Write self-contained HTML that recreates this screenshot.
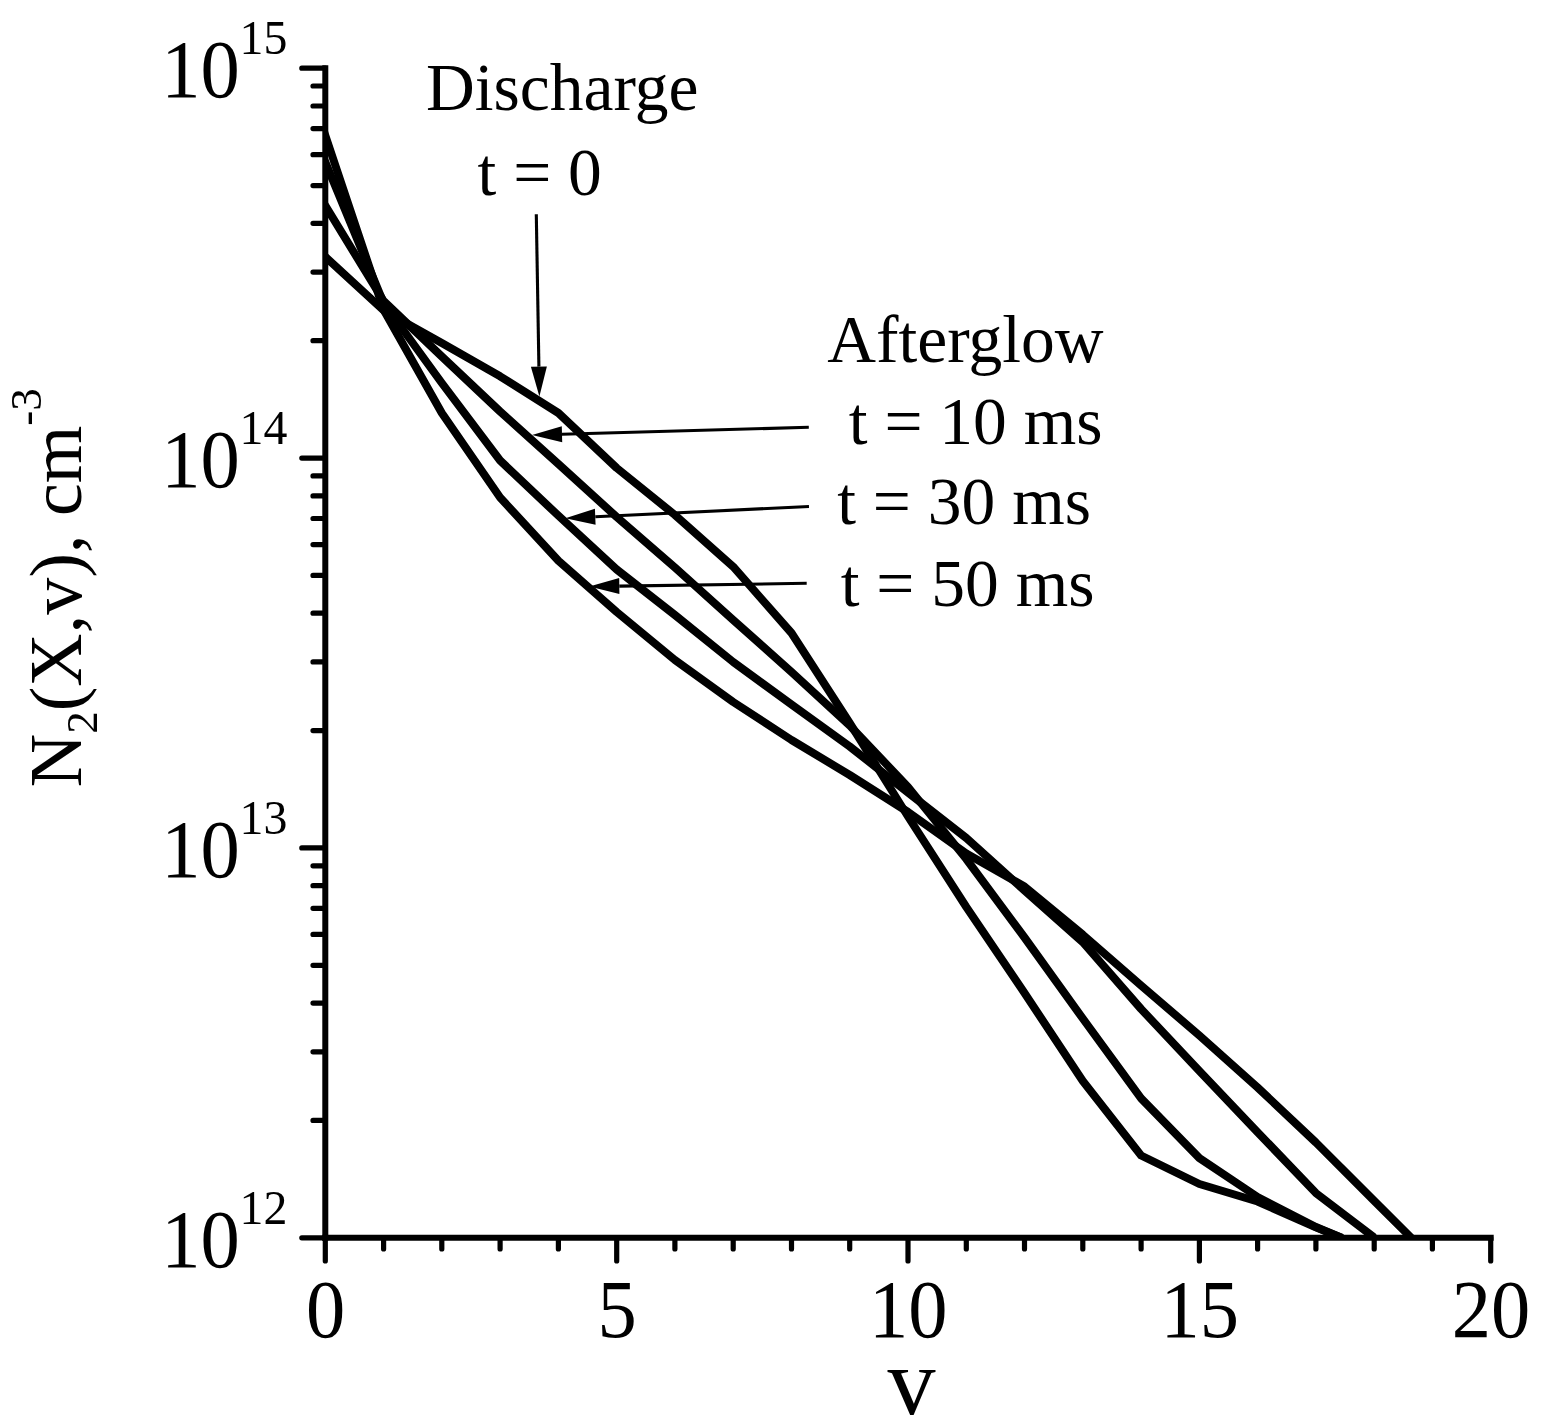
<!DOCTYPE html>
<html><head><meta charset="utf-8"><title>N2(X,v) vibrational distribution</title>
<style>html,body{margin:0;padding:0;background:#fff}body{width:1542px;height:1428px;position:relative;overflow:hidden}</style></head>
<body>
<svg width="1542" height="1428" viewBox="0 0 1542 1428" style="position:absolute;left:0;top:0">
<rect width="1542" height="1428" fill="#fff"/>
<defs><clipPath id="plot"><rect x="325.3" y="60" width="1180" height="1179.6"/></clipPath></defs>
<g fill="none" stroke="#000" stroke-width="8" stroke-linejoin="round" stroke-linecap="butt" clip-path="url(#plot)">
<polyline points="316.6,248.8 325.3,256.8 383.6,310.4 441.8,343.0 500.1,376.3 558.4,413.0 616.7,468.0 674.9,515.0 733.2,566.7 791.5,633.0 849.7,723.0 908.0,816.5 966.3,907.0 1024.5,993.0 1082.8,1081.0 1141.1,1155.5 1199.4,1184.0 1257.6,1201.5 1315.9,1227.4 1342.1,1238.0"/>
<polyline points="316.6,191.3 325.3,205.6 383.6,301.0 441.8,356.5 500.1,411.5 558.4,464.0 616.7,517.0 674.9,567.5 733.2,620.0 791.5,672.0 849.7,725.5 908.0,787.0 966.3,859.0 1024.5,937.5 1082.8,1018.5 1141.1,1098.4 1199.4,1158.1 1257.6,1197.0 1315.9,1227.0 1342.1,1238.0"/>
<polyline points="316.6,140.8 325.3,162.0 383.6,303.0 441.8,383.0 500.1,460.5 558.4,515.7 616.7,569.5 674.9,615.0 733.2,662.0 791.5,704.5 849.7,746.5 908.0,792.5 966.3,838.0 1024.5,890.5 1082.8,942.2 1141.1,1009.0 1199.4,1071.0 1257.6,1132.2 1315.9,1193.1 1374.2,1237.5"/>
<polyline points="316.6,109.3 325.3,135.4 383.6,309.7 441.8,413.0 500.1,497.5 558.4,560.7 616.7,612.0 674.9,660.0 733.2,702.0 791.5,740.0 849.7,775.0 908.0,812.0 966.3,853.5 1024.5,886.5 1082.8,934.7 1141.1,985.5 1199.4,1035.5 1257.6,1087.5 1315.9,1142.5 1374.2,1200.9 1411.5,1238.0"/>
</g>
<g stroke="#000" stroke-width="6" stroke-linecap="square" fill="none">
<path d="M325.3 68.2 V1237.8"/>
<path d="M325.3 1237.8 H1490.7"/>
</g>
<g stroke="#000" stroke-width="5.2" stroke-linecap="round" fill="none">
<path d="M301.8 1237.8H325.3M313.0 1120.4H325.3M313.0 1051.8H325.3M313.0 1003.1H325.3M313.0 965.3H325.3M313.0 934.4H325.3M313.0 908.3H325.3M313.0 885.7H325.3M313.0 865.8H325.3M301.8 847.9H325.3M313.0 730.6H325.3M313.0 661.9H325.3M313.0 613.2H325.3M313.0 575.4H325.3M313.0 544.6H325.3M313.0 518.5H325.3M313.0 495.9H325.3M313.0 475.9H325.3M301.8 458.1H325.3M313.0 340.7H325.3M313.0 272.1H325.3M313.0 223.3H325.3M313.0 185.6H325.3M313.0 154.7H325.3M313.0 128.6H325.3M313.0 106.0H325.3M313.0 86.0H325.3M301.8 68.2H325.3M325.3 1237.8V1261.0M383.6 1237.8V1249.0M441.8 1237.8V1249.0M500.1 1237.8V1249.0M558.4 1237.8V1249.0M616.7 1237.8V1261.0M674.9 1237.8V1249.0M733.2 1237.8V1249.0M791.5 1237.8V1249.0M849.7 1237.8V1249.0M908.0 1237.8V1261.0M966.3 1237.8V1249.0M1024.5 1237.8V1249.0M1082.8 1237.8V1249.0M1141.1 1237.8V1249.0M1199.4 1237.8V1261.0M1257.6 1237.8V1249.0M1315.9 1237.8V1249.0M1374.2 1237.8V1249.0M1432.4 1237.8V1249.0M1490.7 1237.8V1261.0"/>
</g>
<line x1="536.3" y1="214.3" x2="538.9" y2="366.6" stroke="#000" stroke-width="3.1"/><polygon points="539.4,396.6 530.9,366.7 546.9,366.5" fill="#000"/>
<line x1="808.8" y1="427.3" x2="562.0" y2="434.2" stroke="#000" stroke-width="3.1"/><polygon points="532.0,435.0 561.8,426.2 562.2,442.2" fill="#000"/>
<line x1="809.0" y1="506.5" x2="595.3" y2="516.8" stroke="#000" stroke-width="3.1"/><polygon points="565.3,518.2 594.9,508.8 595.6,524.8" fill="#000"/>
<line x1="806.7" y1="583.3" x2="619.3" y2="586.1" stroke="#000" stroke-width="3.1"/><polygon points="589.3,586.6 619.2,578.1 619.4,594.1" fill="#000"/>
<g font-family="'Liberation Serif', serif" fill="#000">
<text transform="translate(161.3,97.3) scale(1,1.04)" font-size="78.5">10</text>
<text x="239.5" y="54.0" font-size="47.8">15</text>
<text transform="translate(161.3,487.2) scale(1,1.04)" font-size="78.5">10</text>
<text x="239.5" y="443.9" font-size="47.8">14</text>
<text transform="translate(161.3,877.0) scale(1,1.04)" font-size="78.5">10</text>
<text x="239.5" y="833.7" font-size="47.8">13</text>
<text transform="translate(161.3,1266.9) scale(1,1.04)" font-size="78.5">10</text>
<text x="239.5" y="1223.6" font-size="47.8">12</text>
<text transform="translate(325.6,1336.6) scale(1,1.04)" font-size="78.5" text-anchor="middle">0</text>
<text transform="translate(617.0,1336.6) scale(1,1.04)" font-size="78.5" text-anchor="middle">5</text>
<text transform="translate(908.3,1336.6) scale(1,1.04)" font-size="78.5" text-anchor="middle">10</text>
<text transform="translate(1199.7,1336.6) scale(1,1.04)" font-size="78.5" text-anchor="middle">15</text>
<text transform="translate(1491.0,1336.6) scale(1,1.04)" font-size="78.5" text-anchor="middle">20</text>
<text x="911.5" y="1413.7" font-size="96" text-anchor="middle">v</text>
<text id="yl" transform="translate(81,787.3) rotate(-90)" font-size="74">N<tspan font-size="45" dy="15.6">2</tspan><tspan dy="-15.6">(X,v), cm</tspan><tspan font-size="45" dy="-39.7">-3</tspan></text>
<text id="tD" x="426" y="109.5" font-size="67.5">Discharge</text>
<text id="t0" x="477.5" y="195.2" font-size="67.5">t = 0</text>
<text id="tA" x="827.2" y="362.3" font-size="67.5">Afterglow</text>
<text id="t10" x="848.8" y="443.8" font-size="67.5">t = 10 ms</text>
<text id="t30" x="837.2" y="524" font-size="67.5">t = 30 ms</text>
<text id="t50" x="840.7" y="606.3" font-size="67.5">t = 50 ms</text>
</g>
</svg>
</body></html>
